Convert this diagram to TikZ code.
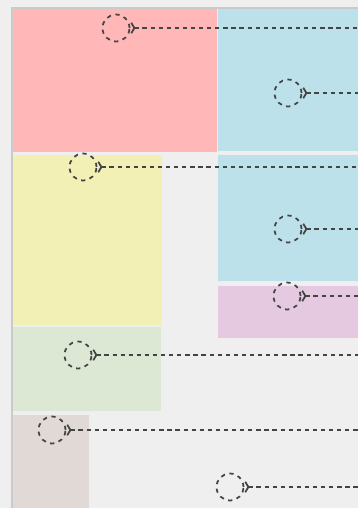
\documentclass[tikz,border=0pt]{standalone}
\usepackage{tikz}
\usetikzlibrary{arrows.meta}

\definecolor{pagebg}{HTML}{EFEFEF}
\definecolor{frameline}{HTML}{CACACA}
\definecolor{zonered}{HTML}{FFB7B8}
\definecolor{zoneblue}{HTML}{BDE1EB}
\definecolor{zoneyellow}{HTML}{F2F0B4}
\definecolor{zonepink}{HTML}{E4C9E0}
\definecolor{zonegreen}{HTML}{DCE8D4}
\definecolor{zonebrown}{HTML}{E1D9D6}
\definecolor{markgray}{HTML}{444444}

\tikzset{
    spot/.style={circle, draw=markgray, dash pattern=on 2.4pt off 2.6pt,
        line width=1pt, minimum size=0.54cm, inner sep=0pt},
    leader/.style={draw=markgray, line width=1pt, dash pattern=on 2.4pt off 2.2pt,
        {Straight Barb[reversed, length=1.8pt, width=6pt]}-}
}

\begin{document}
\begin{tikzpicture}[x=0.02cm, y=-0.02cm]
    \useasboundingbox (0,0) rectangle (358,508);
    \fill[pagebg] (0,0) rectangle (358,508);
    % frame and zones
    \draw[frameline, fill=pagebg, line width=0.6pt] (12,8) rectangle (362,512);
    \fill[zonered] (13,9) rectangle (217,152);
    \fill[zoneblue] (218,9) rectangle (358,151);
    \fill[zoneyellow] (13,155) rectangle (162,325);
    \fill[zoneblue] (218,155) rectangle (358,281);
    \fill[zonepink] (218,286) rectangle (358,338);
    \fill[zonegreen] (13,327) rectangle (161,411);
    \fill[zonebrown] (13,415) rectangle (89,508);

    % markers
    \node[spot] (s1) at (116,28) {};
    \node[spot] (s2) at (288,93) {};
    \node[spot] (s3) at (83,167) {};
    \node[spot] (s4) at (288,229) {};
    \node[spot] (s5) at (287,296) {};
    \node[spot] (s6) at (78,355) {};
    \node[spot] (s7) at (52,430) {};
    \node[spot] (s8) at (230,487) {};
    \foreach \s/\y in {s1/28, s2/93, s3/167, s4/229, s5/296, s6/355, s7/430, s8/487} {
        \coordinate (\s e) at (358,\y);
        \draw[leader] (\s.east) -- (\s e);
    }
\end{tikzpicture}
\end{document}
